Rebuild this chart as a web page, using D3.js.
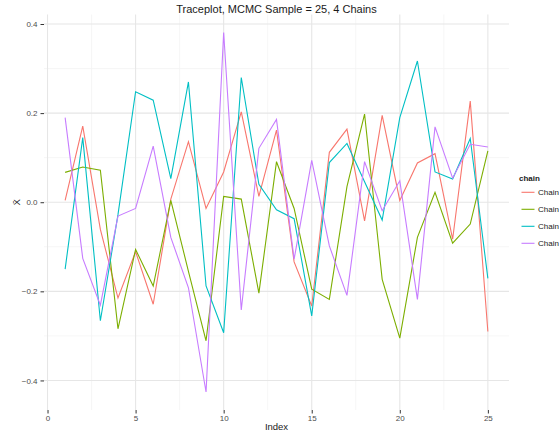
<!DOCTYPE html>
<html>
<head>
<meta charset="utf-8">
<script src="https://cdn.jsdelivr.net/npm/d3@7"></script>
<style>
  html, body { margin: 0; padding: 0; background: #fff; overflow: hidden; }
  svg { display: block; font-family: "Liberation Sans", Arial, sans-serif; }
</style>
</head>
<body>
<svg id="chart" width="559" height="434"></svg>
<script>
// Trace of the sample mean for each of four MCMC chains, 25 iterations each
const iterations = d3.range(1, 26);
const chainNames = ["Chain", "Chain", "Chain", "Chain"];
const chainColors = ["#F8766D", "#7CAE00", "#00BFC4", "#C77CFF"];

const chain1 = [0.004, 0.171, -0.061, -0.215, -0.111, -0.229, 0.007, 0.136, -0.014, 0.068,
                0.203, 0.013, 0.162, -0.134, -0.233, 0.112, 0.164, -0.042, 0.195, 0.004,
                0.088, 0.109, -0.083, 0.227, -0.290];
const chain2 = [0.067, 0.079, 0.072, -0.284, -0.106, -0.188, 0.004, -0.155, -0.311, 0.013,
                0.007, -0.204, 0.091, -0.014, -0.195, -0.218, 0.035, 0.198, -0.173, -0.305,
                -0.079, 0.022, -0.092, -0.049, 0.115];
const chain3 = [-0.150, 0.145, -0.266, -0.028, 0.248, 0.229, 0.053, 0.270, -0.188, -0.293,
                0.280, 0.040, -0.017, -0.037, -0.255, 0.089, 0.132, 0.046, -0.040, 0.190,
                0.317, 0.068, 0.052, 0.143, -0.171];
const chain4 = [0.190, -0.126, -0.231, -0.031, -0.014, 0.126, -0.079, -0.192, -0.426, 0.381,
                -0.242, 0.121, 0.186, -0.128, 0.094, -0.098, -0.209, 0.091, -0.019, 0.048,
                -0.218, 0.169, 0.054, 0.130, 0.124];

const xTicks = [0, 5, 10, 15, 20, 25];
const yTicks = [-0.4, -0.2, 0.0, 0.2, 0.4];
const xMinor = [2.5, 7.5, 12.5, 17.5, 22.5];
const yMinor = [-0.3, -0.1, 0.1, 0.3];

const chains = [chain1, chain2, chain3, chain4].map((vals, k) => ({
  name: chainNames[k],
  color: chainColors[k],
  points: vals.map((v, i) => ({ x: iterations[i], y: v }))
}));

const svg = d3.select("#chart");
const panel = { left: 44, right: 509, top: 14.5, bottom: 410 };

// ggplot-style 5% expansion of the data range
const allY = chains.flatMap(c => c.points.map(p => p.y));
const xr = d3.extent(iterations), yr = d3.extent(allY);
const xPad = (xr[1] - xr[0]) * 0.05, yPad = (yr[1] - yr[0]) * 0.05;

const x = d3.scaleLinear().domain([xr[0] - xPad, xr[1] + xPad]).range([panel.left, panel.right]);
const y = d3.scaleLinear().domain([yr[0] - yPad, yr[1] + yPad]).range([panel.bottom, panel.top]);

// grid: minor then major
const grid = svg.append("g");
grid.selectAll(".xminor").data(xMinor).join("line")
  .attr("x1", d => x(d)).attr("x2", d => x(d))
  .attr("y1", panel.top).attr("y2", panel.bottom)
  .attr("stroke", "#f4f4f4").attr("stroke-width", 0.8);
grid.selectAll(".yminor").data(yMinor).join("line")
  .attr("x1", panel.left).attr("x2", panel.right)
  .attr("y1", d => y(d)).attr("y2", d => y(d))
  .attr("stroke", "#f4f4f4").attr("stroke-width", 0.8);
grid.selectAll(".xmajor").data(xTicks).join("line")
  .attr("x1", d => x(d)).attr("x2", d => x(d))
  .attr("y1", panel.top).attr("y2", panel.bottom)
  .attr("stroke", "#e6e6e6").attr("stroke-width", 1.1);
grid.selectAll(".ymajor").data(yTicks).join("line")
  .attr("x1", panel.left).attr("x2", panel.right)
  .attr("y1", d => y(d)).attr("y2", d => y(d))
  .attr("stroke", "#e6e6e6").attr("stroke-width", 1.1);

// axes
const fmtY = d => d3.format(".1f")(d).replace("-", "\u2212");
const yAxis = svg.append("g").attr("transform", `translate(${panel.left},0)`)
  .call(d3.axisLeft(y).tickValues(yTicks).tickFormat(fmtY).tickSize(3.5).tickPadding(3));
const xAxis = svg.append("g").attr("transform", `translate(0,${panel.bottom})`)
  .call(d3.axisBottom(x).tickValues(xTicks).tickFormat(d3.format("d")).tickSize(3.5).tickPadding(2));
[yAxis, xAxis].forEach(a => {
  a.select(".domain").remove();
  a.selectAll(".tick line").attr("stroke", "#333").attr("stroke-width", 1);
  a.selectAll(".tick text").attr("fill", "#4d4d4d").attr("font-size", 8)
    .attr("font-family", "Liberation Sans, Arial, sans-serif");
});

// trace lines
const line = d3.line().x(d => x(d.x)).y(d => y(d.y));
svg.append("g").selectAll("path").data(chains).join("path")
  .attr("d", d => line(d.points))
  .attr("fill", "none")
  .attr("stroke", d => d.color)
  .attr("stroke-width", 1.1);

// titles
svg.append("text").attr("x", (panel.left + panel.right) / 2).attr("y", 13)
  .attr("text-anchor", "middle").attr("font-size", 11).attr("fill", "#1a1a1a")
  .text("Traceplot, MCMC Sample = 25, 4 Chains");
svg.append("text").attr("x", (panel.left + panel.right) / 2).attr("y", 430)
  .attr("text-anchor", "middle").attr("font-size", 9.5).attr("fill", "#1a1a1a")
  .text("Index");
svg.append("text")
  .attr("transform", `translate(20,${y(0)}) rotate(-90)`)
  .attr("text-anchor", "middle").attr("font-size", 9.5).attr("fill", "#1a1a1a")
  .text("X\u0304");

// legend
const legend = svg.append("g").attr("transform", "translate(519,0)");
legend.append("text").attr("x", 0).attr("y", 181)
  .attr("font-size", 8).attr("font-weight", "bold").attr("fill", "#1a1a1a")
  .text("chain");
const items = legend.selectAll(".item").data(chains).join("g")
  .attr("transform", (d, i) => `translate(0,${192.3 + i * 17})`);
items.append("line").attr("x1", 2.5).attr("x2", 15.5).attr("y1", 0).attr("y2", 0)
  .attr("stroke", d => d.color).attr("stroke-width", 1.1);
items.append("text").attr("x", 19).attr("y", 3).attr("font-size", 8).attr("fill", "#1a1a1a")
  .text(d => d.name);
</script>
</body>
</html>
